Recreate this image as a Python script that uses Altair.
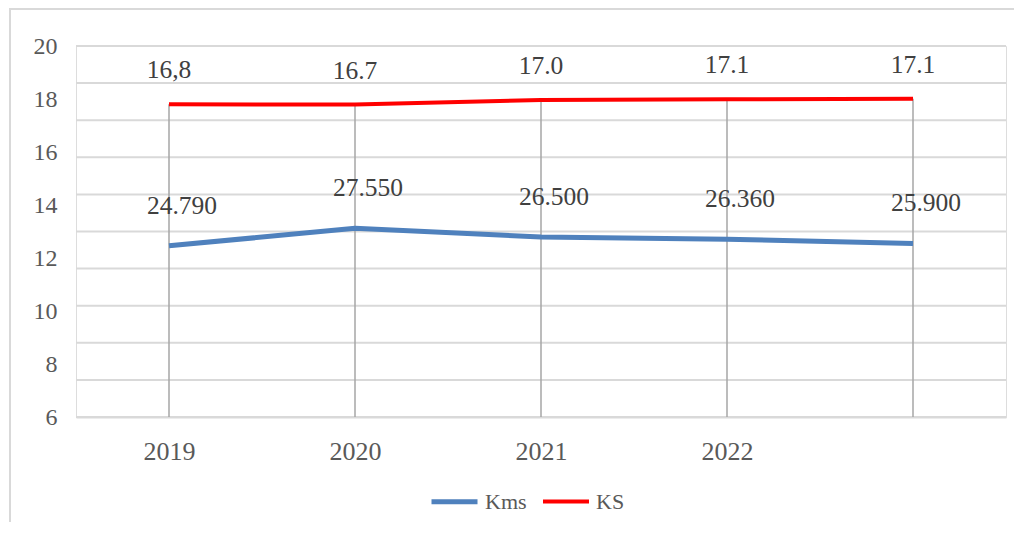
import altair as alt
import pandas as pd

years = ["2019", "2020", "2021", "2022", "2023"]
kms_plot = [12.46, 13.12, 12.79, 12.71, 12.55]
kms_text = ["24.790", "27.550", "26.500", "26.360", "25.900"]
ks_plot = [17.80, 17.79, 17.96, 17.99, 18.01]
ks_text = ["16,8", "16.7", "17.0", "17.1", "17.1"]
series = ["Kms", "KS"]
colors = ["#4F81BD", "#FF0000"]
y_ticks = [6, 8, 10, 12, 14, 16, 18, 20]
grid_values = [6, 7.4, 8.8, 10.2, 11.6, 13.0, 14.4, 15.8, 17.2, 18.6, 20]
y_min, y_max = 6, 20

FONT = "Liberation Serif, 'Times New Roman', serif"

kms_df = pd.DataFrame({"year": years, "value": kms_plot, "label": kms_text, "series": "Kms"})
ks_df = pd.DataFrame({"year": years, "value": ks_plot, "label": ks_text, "series": "KS"})
lines_df = pd.concat([kms_df, ks_df], ignore_index=True)
drop_df = pd.DataFrame({"year": years, "top": ks_plot, "base": [y_min] * len(years)})
grid_df = pd.DataFrame({"v": grid_values})

yscale = alt.Scale(domain=[y_min, y_max], nice=False, zero=False)
xscale = alt.Scale(type="point", padding=0.5, domain=years)

x_axis = alt.Axis(
    labelAngle=0, ticks=False, grid=False, domain=True, domainColor="#D9D9D9",
    domainWidth=2, labelPadding=21, labelFontSize=26, labelFont=FONT,
    labelColor="#595959", labelExpr="datum.value == '2023' ? '' : datum.value",
)
y_axis = alt.Axis(
    values=y_ticks, grid=False, domain=False, ticks=False, labelPadding=19,
    labelFontSize=24, labelFont=FONT, labelColor="#595959",
)

border = alt.Chart(pd.DataFrame({"a": [0]})).mark_rect(
    fill=None, stroke="#D9D9D9", strokeWidth=2
).encode(
    x=alt.value(-66), x2=alt.value(960), y=alt.value(-37), y2=alt.value(520)
)

grid = alt.Chart(grid_df).mark_rule(color="#D9D9D9", strokeWidth=2).encode(
    y=alt.Y("v:Q", scale=yscale, axis=y_axis, title=None)
)

drops = alt.Chart(drop_df).mark_rule(color="#A6A6A6", strokeWidth=1.5).encode(
    x=alt.X("year:N", scale=xscale, axis=x_axis, title=None),
    y=alt.Y("top:Q", scale=yscale, axis=y_axis, title=None),
    y2="base:Q",
)

lines = alt.Chart(lines_df).mark_line(strokeCap="butt").encode(
    x=alt.X("year:N", scale=xscale, axis=x_axis, title=None),
    y=alt.Y("value:Q", scale=yscale, axis=y_axis, title=None),
    color=alt.Color(
        "series:N",
        scale=alt.Scale(domain=series, range=colors),
        legend=alt.Legend(
            title=None, orient="none", direction="horizontal",
            legendX=353, legendY=430, symbolType="stroke",
            symbolStrokeWidth=5, symbolSize=2116, labelFont=FONT,
            labelFontSize=22, labelColor="#595959", labelOffset=5,
            columnPadding=8,
        ),
    ),
    strokeWidth=alt.StrokeWidth("series:N", scale=alt.Scale(domain=series, range=[5, 4]), legend=None),
    detail="series:N",
)

kms_labels = alt.Chart(kms_df).mark_text(
    font=FONT, fontSize=25.5, color="#404040", dx=13, dy=-40, baseline="middle"
).encode(
    x=alt.X("year:N", scale=xscale, axis=x_axis, title=None),
    y=alt.Y("value:Q", scale=yscale, axis=y_axis, title=None),
    text="label:N",
)

ks_labels = alt.Chart(ks_df).mark_text(
    font=FONT, fontSize=25.5, color="#404040", dx=0, dy=-34, baseline="middle"
).encode(
    x=alt.X("year:N", scale=xscale, axis=x_axis, title=None),
    y=alt.Y("value:Q", scale=yscale, axis=y_axis, title=None),
    text="label:N",
)

chart = alt.layer(border, grid, drops, lines, kms_labels, ks_labels).properties(
    width=930, height=371,
    autosize=alt.AutoSizeParams(type="none"),
    padding={"left": 68, "top": 38, "right": 8, "bottom": 105},
    background="white",
).configure_view(stroke=None).configure(font=FONT)

chart.save("out.html", embed_options={"renderer": "svg", "actions": False})
